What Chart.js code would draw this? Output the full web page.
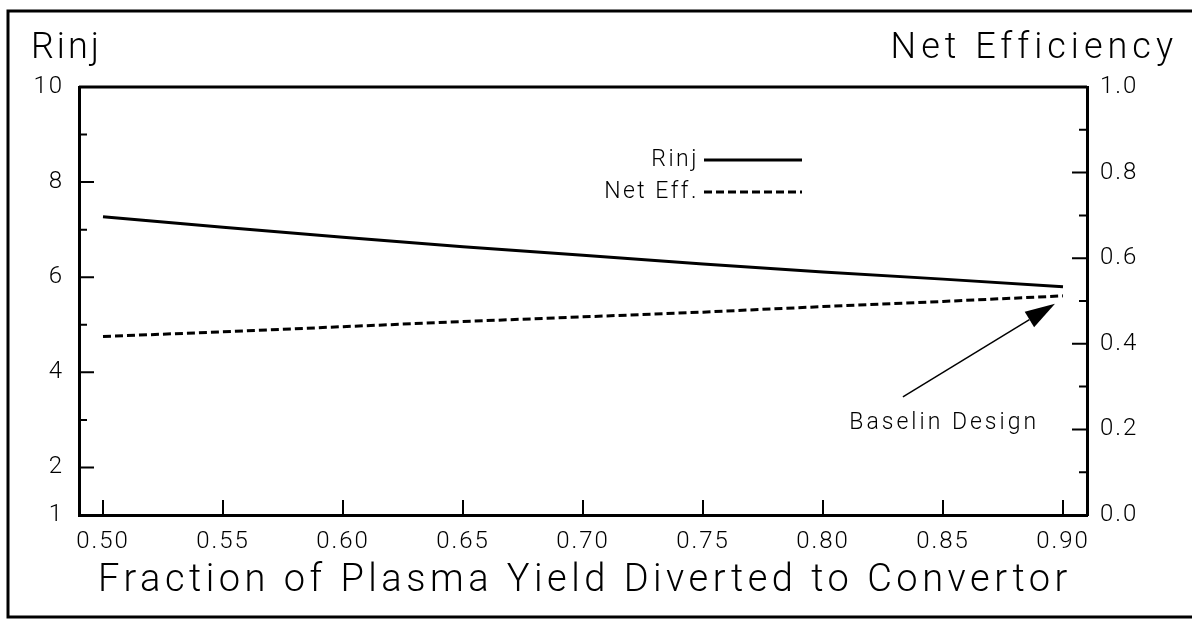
<!DOCTYPE html>
<html>
<head>
<meta charset="utf-8">
<script src="https://cdn.jsdelivr.net/npm/chart.js@4"></script>
<style>
  html, body { margin: 0; padding: 0; background: #fff; }
  #wrap { width: 1192px; height: 619px; }
</style>
</head>
<body>
<div id="wrap"><canvas id="chart" width="1192" height="619"></canvas></div>
<script>
// data
const fractions = [0.50, 0.55, 0.60, 0.65, 0.70, 0.75, 0.80, 0.85, 0.90];
const rinj = [7.27, 7.05, 6.84, 6.64, 6.46, 6.28, 6.11, 5.96, 5.80];
const netEff = [0.417, 0.428, 0.440, 0.452, 0.463, 0.474, 0.487, 0.499, 0.512];

const xTicks = [0.50, 0.55, 0.60, 0.65, 0.70, 0.75, 0.80, 0.85, 0.90];
const rinjTicks = [1, 2, 3, 4, 5, 6, 7, 8, 9, 10];
const effTicks = [0.0, 0.1, 0.2, 0.3, 0.4, 0.5, 0.6, 0.7, 0.8, 0.9, 1.0];

const FONT = 'Roboto';

// wider letter spacing for the tick labels, like the plotter font
const spacing = {
  id: 'spacing',
  beforeDraw(chart) {
    chart.ctx.letterSpacing = '2px';
  }
};

// inward tick marks, frame, titles, legend and the arrow note
const decorations = {
  id: 'decorations',
  afterDraw(chart) {
    const ctx = chart.ctx;
    const x = chart.scales.x, y = chart.scales.y, y2 = chart.scales.y2;
    const a = chart.chartArea;
    ctx.save();
    ctx.strokeStyle = '#000';
    ctx.fillStyle = '#000';

    // tick marks pointing into the plot
    ctx.lineWidth = 2;
    ctx.beginPath();
    xTicks.forEach(v => {
      const px = x.getPixelForValue(v);
      ctx.moveTo(px, a.bottom);
      ctx.lineTo(px, a.bottom - 15);
    });
    rinjTicks.forEach(v => {
      if (v === 1 || v === 10) return;
      const py = y.getPixelForValue(v);
      ctx.moveTo(a.left, py);
      ctx.lineTo(a.left + (v % 2 === 0 ? 15 : 8), py);
    });
    effTicks.forEach((v, i) => {
      if (i === 0 || i === effTicks.length - 1) return;
      const py = y2.getPixelForValue(v);
      ctx.moveTo(a.right, py);
      ctx.lineTo(a.right - (i % 2 === 0 ? 15 : 8), py);
    });
    ctx.stroke();

    // top border of plot box
    ctx.lineWidth = 3;
    ctx.beginPath();
    ctx.moveTo(a.left, a.top);
    ctx.lineTo(a.right, a.top);
    ctx.stroke();

    // outer frame
    ctx.lineWidth = 3;
    ctx.beginPath();
    ctx.moveTo(1192, 11);
    ctx.lineTo(8, 11);
    ctx.lineTo(8, 617);
    ctx.lineTo(1192, 617);
    ctx.stroke();

    ctx.textBaseline = 'middle';
    ctx.font = '300 36px ' + FONT;
    ctx.letterSpacing = '3px';
    ctx.textAlign = 'left';
    ctx.fillText('Rinj', 31, 49);
    ctx.letterSpacing = '5px';
    ctx.textAlign = 'right';
    ctx.fillText('Net Efficiency', 1178, 49);

    ctx.font = '300 38px ' + FONT;
    ctx.letterSpacing = '4.5px';
    ctx.textAlign = 'center';
    ctx.fillText('Fraction of Plasma Yield Diverted to Convertor', (a.left + a.right) / 2 + 2, 581);

    // legend
    ctx.font = '300 23px ' + FONT;
    ctx.letterSpacing = '2.5px';
    ctx.textAlign = 'right';
    const items = chart.data.datasets;
    const legY = [160, 192];
    items.forEach((ds, i) => {
      ctx.fillText(ds.label, 699, legY[i]);
      ctx.save();
      ctx.lineWidth = ds.borderWidth;
      ctx.setLineDash(ds.borderDash || []);
      ctx.beginPath();
      ctx.moveTo(704, legY[i]);
      ctx.lineTo(802, legY[i]);
      ctx.stroke();
      ctx.restore();
    });

    // Baseline design note with arrow
    const tipX = x.getPixelForValue(0.9) - 8;
    const tipY = y2.getPixelForValue(netEff[netEff.length - 1]) + 8;
    const tailX = x.getPixelForValue(0.8333);
    const tailY = y2.getPixelForValue(0.276);
    const ang = Math.atan2(tipY - tailY, tipX - tailX);
    const headL = 30, headW = 9;
    const bx = tipX - headL * Math.cos(ang), by = tipY - headL * Math.sin(ang);
    ctx.lineWidth = 1.5;
    ctx.beginPath();
    ctx.moveTo(tailX, tailY);
    ctx.lineTo(bx, by);
    ctx.stroke();
    ctx.beginPath();
    ctx.moveTo(tipX, tipY);
    ctx.lineTo(bx + headW * Math.sin(ang), by - headW * Math.cos(ang));
    ctx.lineTo(bx - headW * Math.sin(ang), by + headW * Math.cos(ang));
    ctx.closePath();
    ctx.fill();

    ctx.textAlign = 'center';
    ctx.font = '300 23px ' + FONT;
    ctx.letterSpacing = '3px';
    ctx.fillText('Baselin Design', x.getPixelForValue(0.8505), y2.getPixelForValue(0.215));
    ctx.restore();
  }
};

const tickFont = { family: FONT, size: 24, weight: 300 };

const ctx = document.getElementById('chart').getContext('2d');
const chart = new Chart(ctx, {
  type: 'line',
  data: {
    datasets: [{
      label: 'Rinj',
      data: fractions.map((f, i) => ({ x: f, y: rinj[i] })),
      yAxisID: 'y',
      borderColor: '#000',
      borderWidth: 3,
      pointRadius: 0,
      tension: 0
    }, {
      label: 'Net Eff.',
      data: fractions.map((f, i) => ({ x: f, y: netEff[i] })),
      yAxisID: 'y2',
      borderColor: '#000',
      borderWidth: 3,
      borderDash: [8, 4],
      pointRadius: 0,
      tension: 0
    }]
  },
  options: {
    responsive: false,
    animation: false,
    events: [],
    layout: { padding: { left: 0, right: 0, top: 87, bottom: 0 } },
    plugins: { legend: { display: false }, tooltip: { enabled: false } },
    scales: {
      x: {
        type: 'linear',
        min: 0.49,
        max: 0.91,
        afterBuildTicks: s => { s.ticks = xTicks.map(v => ({ value: v })); },
        afterFit: s => { s.height = 104; },
        grid: { drawOnChartArea: false, drawTicks: false },
        border: { display: true, color: '#000', width: 3 },
        ticks: {
          color: '#000',
          padding: 13,
          maxRotation: 0,
          autoSkip: false,
          font: tickFont,
          callback: v => v.toFixed(2)
        }
      },
      y: {
        position: 'left',
        min: 1,
        max: 10,
        afterBuildTicks: s => { s.ticks = rinjTicks.map(v => ({ value: v })); },
        afterFit: s => { s.width = 79; },
        grid: { drawOnChartArea: false, drawTicks: false },
        border: { display: true, color: '#000', width: 3 },
        ticks: {
          color: '#000',
          padding: 15,
          autoSkip: false,
          font: tickFont,
          callback: v => (v === 1 || v % 2 === 0) ? String(v) : ''
        }
      },
      y2: {
        position: 'right',
        min: 0,
        max: 1,
        afterBuildTicks: s => { s.ticks = effTicks.map(v => ({ value: v })); },
        afterFit: s => { s.width = 105; },
        grid: { drawOnChartArea: false, drawTicks: false },
        border: { display: true, color: '#000', width: 3 },
        ticks: {
          color: '#000',
          padding: 13,
          autoSkip: false,
          font: tickFont,
          callback: v => Math.round(v * 10) % 2 === 0 ? v.toFixed(1) : ''
        }
      }
    }
  },
  plugins: [spacing, decorations]
});
</script>
</body>
</html>
